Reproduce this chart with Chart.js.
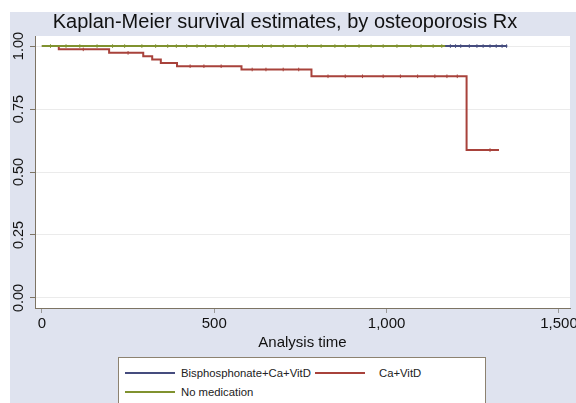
<!DOCTYPE html>
<html>
<head>
<meta charset="utf-8">
<script src="https://cdn.jsdelivr.net/npm/chart.js@4"></script>
<style>
  html, body { margin: 0; padding: 0; background: #fff; }
  #wrap { position: relative; width: 576px; height: 403px; overflow: hidden; }
  #legend {
    position: absolute; left: 118px; top: 357px; width: 366px; height: 60px;
    background: #fff; border: 1px solid #8c8270;
    font-family: "Liberation Sans", Arial, sans-serif; font-size: 11.3px; color: #222;
  }
  .sw { position: absolute; height: 2px; }
  .lb { position: absolute; line-height: 14px; white-space: nowrap; }
</style>
</head>
<body>
<div id="wrap">
  <canvas id="chart" width="576" height="403"></canvas>
  <div id="legend"></div>
</div>
<script>
// Kaplan-Meier steps
const groupNames = ['Bisphosphonate+Ca+VitD', 'Ca+VitD', 'No medication'];
const groupColors = ['#454c7e', '#a8423b', '#80922f'];

const timesBis = [0, 1350];
const survBis = [1, 1];
const timesCa = [0, 49, 195, 294, 320, 345, 392, 579, 782, 1232, 1326];
const survCa = [1, 0.987, 0.973, 0.96, 0.947, 0.933, 0.92, 0.907, 0.88, 0.587, 0.587];
const timesNone = [0, 1170];
const survNone = [1, 1];

// censoring times (little ticks along the curves)
const censBis = [1185, 1200, 1215, 1240, 1262, 1280, 1300, 1318, 1335, 1348];
const censCa = [120, 250, 430, 470, 520, 610, 650, 700, 745, 830, 880, 930, 990, 1040, 1090, 1140, 1175, 1205, 1300];
const censNone = [25, 70, 110, 160, 205, 240, 290, 330, 365, 390, 420, 450, 475, 505, 530, 560, 600, 640, 665, 700,
                  735, 770, 810, 850, 880, 920, 955, 990, 1030, 1070, 1100, 1135, 1160];

const xTicks = [0, 500, 1000, 1500];
const yTicks = [0, 0.25, 0.5, 0.75, 1];

function pts(times, surv) {
  return times.map((t, i) => ({ x: t, y: surv[i] }));
}
// survival value of a step curve at time t
function stepAt(times, surv, t) {
  let v = surv[0];
  for (let i = 0; i < times.length; i++) if (times[i] <= t) v = surv[i];
  return v;
}
function cens(c, times, surv) {
  return c.map(t => ({ x: t, y: stepAt(times, surv, t) }));
}

function curve(label, data, color, w) {
  return { label, data, borderColor: color, borderWidth: w, stepped: 'before', pointRadius: 0, fill: false };
}
function marks(data, color) {
  return { data, showLine: false, borderColor: color, backgroundColor: color, pointStyle: 'line',
           rotation: 90, pointRadius: 1.8, pointBorderWidth: 1, pointHoverRadius: 0 };
}

const bgPlugin = {
  id: 'bg',
  beforeDraw(chart) {
    const { ctx, chartArea: a } = chart;
    ctx.save();
    ctx.fillStyle = '#dfe3ef';
    ctx.fillRect(10, 12, chart.width - 10, chart.height - 12);
    ctx.fillStyle = '#fff';
    ctx.fillRect(a.left, a.top, a.right - a.left, a.bottom - a.top);
    ctx.restore();
  }
};

const fontFam = '"Liberation Sans", Arial, sans-serif';

new Chart(document.getElementById('chart'), {
  type: 'line',
  plugins: [bgPlugin],
  data: {
    datasets: [
      curve(groupNames[2], pts(timesNone, survNone), groupColors[2], 2),
      marks(cens(censNone, timesNone, survNone), groupColors[2]),
      curve(groupNames[1], pts(timesCa, survCa), groupColors[1], 2),
      marks(cens(censCa, timesCa, survCa), groupColors[1]),
      curve(groupNames[0], pts(timesBis, survBis), groupColors[0], 2),
      marks(cens(censBis, timesBis, survBis), groupColors[0])
    ]
  },
  options: {
    responsive: false,
    animation: false,
    layout: { padding: { left: 0, right: 6, top: 0, bottom: 0 } },
    plugins: {
      legend: { display: false },
      tooltip: { enabled: false },
      title: {
        display: true,
        text: 'Kaplan-Meier survival estimates, by osteoporosis Rx',
        color: '#111',
        font: { family: fontFam, size: 20, weight: 'normal' },
        padding: { top: 10, bottom: 2 }
      }
    },
    scales: {
      x: {
        type: 'linear',
        min: -20,
        max: 1532,
        afterBuildTicks: s => { s.ticks = xTicks.map(v => ({ value: v })); },
        afterFit: s => { s.paddingLeft = 0; s.paddingRight = 0; s.height = 95; },
        ticks: {
          color: '#111', padding: 2,
          font: { family: fontFam, size: 15 },
          callback: v => v.toLocaleString('en-US')
        },
        grid: { drawOnChartArea: false, tickLength: 5, color: '#9a9a9a' },
        border: { color: '#7d7464', width: 1 },
        title: {
          display: true, text: 'Analysis time', color: '#111',
          font: { family: fontFam, size: 15 },
          padding: { top: 0, bottom: 51 }
        }
      },
      y: {
        min: -0.04,
        max: 1.04,
        afterBuildTicks: s => { s.ticks = yTicks.map(v => ({ value: v })); },
        afterFit: s => { s.width = 35; s.paddingTop = 0; s.paddingBottom = 0; },
        ticks: {
          color: '#111', padding: -3, minRotation: 90, maxRotation: 90, crossAlign: 'center',
          font: { family: fontFam, size: 14.5 },
          callback: v => v.toFixed(2)
        },
        grid: { color: '#ebebeb', tickColor: '#7d7464', tickLength: 5 },
        border: { color: '#7d7464', width: 1 }
      }
    }
  }
});

// legend box like the original (two columns)
const legend = document.getElementById('legend');
const legendItems = [
  { name: groupNames[0], color: groupColors[0], sx: 6, tx: 62, row: 0 },
  { name: groupNames[1], color: groupColors[1], sx: 196, tx: 260, row: 0 },
  { name: groupNames[2], color: groupColors[2], sx: 6, tx: 62, row: 1 }
];
legendItems.forEach(it => {
  const cy = 14 + it.row * 19;
  const sw = document.createElement('div');
  sw.className = 'sw';
  sw.style.cssText = `left:${it.sx}px;top:${cy}px;width:50px;background:${it.color}`;
  const lb = document.createElement('div');
  lb.className = 'lb';
  lb.style.cssText = `left:${it.tx}px;top:${cy - 6}px`;
  lb.textContent = it.name;
  legend.appendChild(sw);
  legend.appendChild(lb);
});
</script>
</body>
</html>
